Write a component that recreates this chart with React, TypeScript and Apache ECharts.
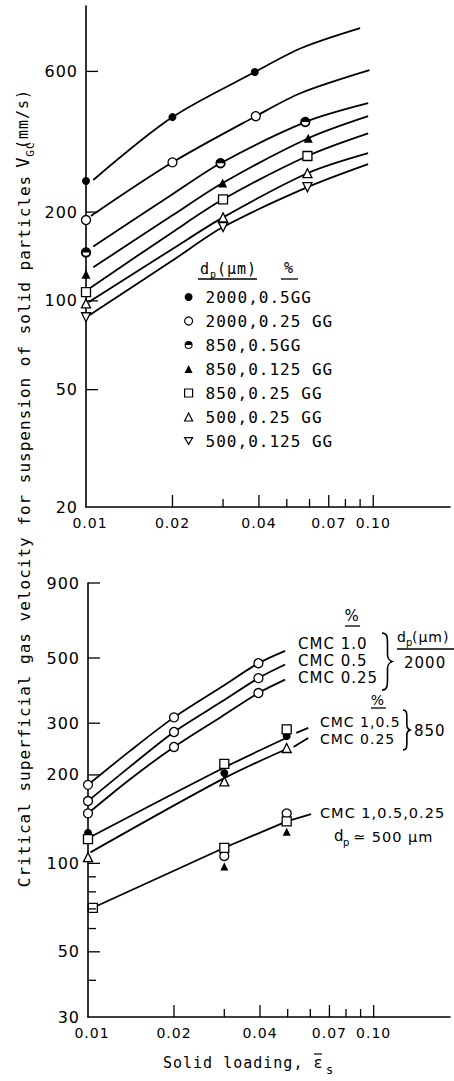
import React, { useEffect, useRef } from 'react';
import * as echarts from 'echarts';

const MONO = '"DejaVu Sans Mono", monospace';
const SANS = '"DejaVu Sans", sans-serif';

// ---------- Top panel (GG solutions) ----------
const topNames = ['2000,0.5GG', '2000,0.25 GG', '850,0.5GG', '850,0.125 GG', '850,0.25 GG', '500,0.25 GG', '500,0.125 GG'];
const top2000_050 = [[0.01, 255], [0.02, 420], [0.0387, 597]];
const top2000_025 = [[0.01, 188], [0.02, 295], [0.039, 423]];
const top850_050 = [[0.01, 146], [0.0294, 293], [0.058, 404]];
const top850_0125 = [[0.01, 123], [0.0299, 251], [0.0594, 356]];
const top850_025 = [[0.01, 107], [0.03, 221], [0.059, 310]];
const top500_025 = [[0.01, 98], [0.03, 192], [0.059, 271]];
const top500_0125 = [[0.01, 88], [0.03, 178], [0.059, 243]];

const topCurve2000_050 = [[0.0106, 257], [0.02, 420], [0.0387, 597], [0.056, 719], [0.09, 841]];
const topCurve2000_025 = [[0.0104, 194], [0.02, 295], [0.039, 423], [0.056, 507], [0.097, 606]];
const topCurve850_050 = [[0.0106, 153], [0.02, 230], [0.0294, 293], [0.058, 404], [0.096, 468]];
const topCurve850_0125 = [[0.0106, 130], [0.02, 195], [0.0299, 251], [0.0594, 356], [0.096, 423]];
const topCurve850_025 = [[0.0104, 111], [0.02, 171], [0.03, 221], [0.059, 310], [0.096, 370]];
const topCurve500_025 = [[0.0102, 99], [0.02, 150], [0.03, 192], [0.059, 271], [0.096, 317]];
const topCurve500_0125 = [[0.0102, 89], [0.02, 137], [0.03, 178], [0.059, 243], [0.096, 291]];

// ---------- Bottom panel (CMC solutions) ----------
const bot2000_10 = [[0.01, 185], [0.02, 314], [0.0395, 480]];
const bot2000_05 = [[0.01, 163], [0.02, 280], [0.0395, 427]];
const bot2000_025 = [[0.01, 148], [0.02, 249], [0.0395, 380]];
const botCurve2000_10 = [[0.01, 185], [0.014, 241], [0.02, 314], [0.0295, 400], [0.0395, 480], [0.049, 529]];
const botCurve2000_05 = [[0.01, 163], [0.014, 213], [0.02, 280], [0.0295, 356], [0.0395, 427], [0.049, 475]];
const botCurve2000_025 = [[0.01, 148], [0.014, 193], [0.02, 249], [0.0295, 317], [0.0395, 380], [0.049, 422]];

const bot850_sq = [[0.01, 121], [0.03, 218], [0.0496, 286]];
const bot850_dot = [[0.01, 127], [0.03, 203], [0.0496, 271]];
const bot850_tri = [[0.01, 105], [0.03, 190], [0.0496, 247]];
const botCurve850_a = [[0.0102, 123], [0.03, 212], [0.049, 266]];
const botLeader850_a = [[0.0536, 278], [0.059, 289]];
const botCurve850_b = [[0.0102, 109], [0.03, 195], [0.0496, 245]];
const botLeader850_b = [[0.0524, 249], [0.059, 267]];

const bot500_sq = [[0.0104, 70.6], [0.03, 113], [0.0496, 139]];
const bot500_circ = [[0.03, 106], [0.0496, 148]];
const bot500_tri = [[0.03, 97.5], [0.0496, 128]];
const botCurve500 = [[0.0104, 70.6], [0.03, 113], [0.0496, 139], [0.0604, 147]];

// ---------- Axes ----------
const xMin = 0.01;
const xMax = 0.185;
const topYMin = 20;
const topYMax = 1000;
const botYMin = 30;
const botYMax = 900;
const xTickValues = [0.01, 0.02, 0.03, 0.04, 0.05, 0.06, 0.07, 0.08, 0.09, 0.1];
const xTickLabels = ['0.01', '0.02', '', '0.04', '', '', '0.07', '', '', '0.10'];
const topYTickValues = [20, 50, 100, 200, 600];
const topYTickLabels = ['20', '50', '100', '200', '600'];
const botYTickValues = [30, 40, 50, 60, 70, 80, 90, 100, 200, 300, 500, 900];
const botYTickLabels = ['30', '', '50', '', '', '', '', '100', '200', '300', '500', '900'];

const HALF = 'path://M0,10A10,10,0,1,1,20,10A10,10,0,1,1,0,10ZM2.5,10A7.5,7.5,0,1,0,17.5,10A7.5,7.5,0,1,0,2.5,10ZM2.5,10A7.5,7.5,0,0,1,17.5,10Z';
const INV_TRI = 'path://M0,0L20,0L10,17Z';

function braceD(h: number, w: number) {
  const m = w * 0.55;
  return `M0,0 C${m},0 ${m},${h * 0.08} ${m},${h * 0.2} L${m},${h * 0.38} C${m},${h * 0.47} ${w},${h * 0.5} ${w},${h * 0.5} C${w},${h * 0.5} ${m},${h * 0.53} ${m},${h * 0.62} L${m},${h * 0.8} C${m},${h * 0.92} ${m},${h} 0,${h}`;
}
echarts.graphic.registerShape('brace1', echarts.graphic.extendPath(braceD(57, 10), {}));
echarts.graphic.registerShape('brace2', echarts.graphic.extendPath(braceD(40, 7), {}));

function lineS(name: string, data: number[][], gi: number, smooth: boolean | number = 0.3) {
  return {
    name, type: 'line', xAxisIndex: gi, yAxisIndex: gi, data, smooth,
    showSymbol: false, symbol: 'none', lineStyle: { color: '#000', width: 1.8 }, itemStyle: { color: '#000' },
    z: 2, silent: true, clip: false,
  };
}

function dotS(name: string, data: number[][], gi: number, symbol: string, size: number, fill: string, extra: any = {}) {
  return {
    name, type: 'scatter', xAxisIndex: gi, yAxisIndex: gi, data, symbol, symbolSize: size,
    itemStyle: { color: fill, borderColor: '#000', borderWidth: fill === '#000' ? 0 : 1.3, opacity: 1 },
    z: 3, clip: false, silent: true, ...extra,
  };
}

function xTicks(gi: number, yMin: number) {
  return {
    type: 'custom', xAxisIndex: gi, yAxisIndex: gi, silent: true, clip: false, z: 4,
    data: xTickValues.map((v) => [v, yMin]),
    renderItem: (params: any, api: any) => {
      const i = params.dataIndex;
      const p = api.coord([xTickValues[i], yMin]);
      const children: any[] = [];
      if (i > 0) {
        children.push({ type: 'line', shape: { x1: p[0], y1: p[1], x2: p[0], y2: p[1] - (xTickLabels[i] ? 12 : 8) }, style: { stroke: '#000', lineWidth: 1.3 } });
      }
      if (xTickLabels[i]) {
        children.push({
          type: 'text', x: p[0] + (i === 0 ? 4 : 0), y: p[1] + 16,
          style: { text: xTickLabels[i], font: `14px ${SANS}`, fill: '#000', align: 'center', verticalAlign: 'middle', textAlign: 'center', textVerticalAlign: 'middle' },
        });
      }
      return { type: 'group', children };
    },
  };
}

function yTicks(gi: number, values: number[], labels: string[]) {
  return {
    type: 'custom', xAxisIndex: gi, yAxisIndex: gi, silent: true, clip: false, z: 4,
    data: values.map((v) => [xMin, v]),
    renderItem: (params: any, api: any) => {
      const i = params.dataIndex;
      const p = api.coord([xMin, values[i]]);
      const children: any[] = [];
      if (i > 0) {
        children.push({ type: 'line', shape: { x1: p[0], y1: p[1], x2: p[0] + (labels[i] ? 12 : 8), y2: p[1] }, style: { stroke: '#000', lineWidth: 1.3 } });
      }
      if (labels[i]) {
        children.push({
          type: 'text', x: p[0] - 8, y: p[1],
          style: { text: labels[i], font: `16px ${SANS}`, fill: '#000', align: 'right', verticalAlign: 'middle', textAlign: 'right', textVerticalAlign: 'middle' },
        });
      }
      return { type: 'group', children };
    },
  };
}

function T(text: string, x: number, y: number, size: number, family = SANS, align = 'left', extra: any = {}) {
  return {
    type: 'text', x, y, silent: true, ...extra,
    style: { text, font: `${size}px ${family}`, fill: '#000', align, verticalAlign: 'middle', textAlign: align, textVerticalAlign: 'middle' },
  };
}
function L(x1: number, y1: number, x2: number, y2: number, w = 1.3) {
  return { type: 'line', silent: true, shape: { x1, y1, x2, y2 }, style: { stroke: '#000', lineWidth: w } };
}

const axisCommon = {
  axisLine: { show: true, onZero: false, lineStyle: { color: '#000', width: 1.6 } },
  axisTick: { show: false },
  axisLabel: { show: false },
  splitLine: { show: false },
  minorTick: { show: false },
};

const openStyle = { color: '#fff', borderColor: '#000', borderWidth: 1.2 };
const solidStyle = { color: '#000', borderColor: '#000', borderWidth: 0 };

export default function App() {
  const ref = useRef<HTMLDivElement>(null);
  useEffect(() => {
    if (!ref.current) return;
    const chart = echarts.init(ref.current, null, { renderer: 'svg' });
    const R = Math.PI / 2;
    const option: any = {
      animation: false,
      backgroundColor: '#fff',
      grid: [
        { left: 86, top: 6, width: 364, height: 501, outerBoundsMode: 'none' },
        { left: 88, top: 583, width: 362, height: 434, outerBoundsMode: 'none' },
      ],
      xAxis: [
        { type: 'log', gridIndex: 0, min: xMin, max: xMax, ...axisCommon },
        { type: 'log', gridIndex: 1, min: xMin, max: xMax, ...axisCommon },
      ],
      yAxis: [
        { type: 'log', gridIndex: 0, min: topYMin, max: topYMax, ...axisCommon },
        { type: 'log', gridIndex: 1, min: botYMin, max: botYMax, ...axisCommon },
      ],
      legend: {
        orient: 'vertical', left: 184, top: 289, padding: 0, itemWidth: 8, itemHeight: 8, itemGap: 8,
        selectedMode: false,
        textStyle: { fontFamily: MONO, fontSize: 16, color: '#000', lineHeight: 16, padding: [0, 0, 0, 8] },
        data: [
          { name: topNames[0], icon: 'circle', itemStyle: solidStyle },
          { name: topNames[1], icon: 'circle', itemStyle: openStyle },
          { name: topNames[2], icon: HALF, itemStyle: solidStyle },
          { name: topNames[3], icon: 'triangle', itemStyle: solidStyle },
          { name: topNames[4], icon: 'rect', itemStyle: openStyle },
          { name: topNames[5], icon: 'triangle', itemStyle: openStyle },
          { name: topNames[6], icon: INV_TRI, itemStyle: openStyle },
        ],
      },
      series: [
        // top curves
        lineS('tc1', topCurve2000_050, 0),
        lineS('tc2', topCurve2000_025, 0),
        lineS('tc3', topCurve850_050, 0),
        lineS('tc4', topCurve850_0125, 0),
        lineS('tc5', topCurve850_025, 0),
        lineS('tc6', topCurve500_025, 0),
        lineS('tc7', topCurve500_0125, 0),
        // top markers
        dotS(topNames[0], top2000_050, 0, 'circle', 8, '#000'),
        dotS(topNames[1], top2000_025, 0, 'circle', 9, '#fff'),
        dotS('bg850', top850_050, 0, 'circle', 9, '#fff'),
        dotS(topNames[2], top850_050, 0, HALF, 9, '#000', { z: 4 }),
        dotS(topNames[3], top850_0125, 0, 'triangle', 9, '#000'),
        dotS(topNames[4], top850_025, 0, 'rect', 9, '#fff'),
        dotS(topNames[5], top500_025, 0, 'triangle', 9, '#fff'),
        dotS(topNames[6], top500_0125, 0, INV_TRI, 9, '#fff'),
        // bottom curves
        lineS('bc1', botCurve2000_10, 1),
        lineS('bc2', botCurve2000_05, 1),
        lineS('bc3', botCurve2000_025, 1),
        lineS('bc4', botCurve850_a, 1),
        lineS('bc4l', botLeader850_a, 1, false),
        lineS('bc5', botCurve850_b, 1),
        lineS('bc5l', botLeader850_b, 1, false),
        lineS('bc6', botCurve500, 1, false),
        // bottom markers
        dotS('CMC 1.0', bot2000_10, 1, 'circle', 9, '#fff'),
        dotS('CMC 0.5', bot2000_05, 1, 'circle', 9, '#fff'),
        dotS('CMC 0.25', bot2000_025, 1, 'circle', 9, '#fff'),
        dotS('850 CMC 1,0.5 dot', bot850_dot, 1, 'circle', 8, '#000'),
        dotS('850 CMC 1,0.5', bot850_sq, 1, 'rect', 9, '#fff'),
        dotS('850 CMC 0.25', bot850_tri, 1, 'triangle', 9, '#fff'),
        dotS('500 tri', bot500_tri, 1, 'triangle', 8, '#000'),
        dotS('500 circ', bot500_circ, 1, 'circle', 9, '#fff'),
        dotS('500 sq', bot500_sq, 1, 'rect', 9, '#fff'),
        // ticks
        xTicks(0, topYMin),
        xTicks(1, botYMin),
        yTicks(0, topYTickValues, topYTickLabels),
        yTicks(1, botYTickValues, botYTickLabels),
      ],
      graphic: [
        // y axis title
        T('Critical superficial gas velocity for suspension of solid particles', 24, 531, 16, MONO, 'center', { rotation: R }),
        T('V', 23, 162, 17, MONO, 'center', { rotation: R }),
        T('GC', 30, 149, 11, MONO, 'center', { rotation: R }),
        T('(mm/s)', 23, 119, 15, MONO, 'center', { rotation: R }),
        // x axis title
        T('Solid loading, ε', 163, 1063, 15, MONO),
        L(314, 1054, 322, 1054, 1.2),
        T('s', 326, 1070, 12, MONO),
        // top legend header
        T('d', 200, 269, 15, MONO),
        T('p', 210, 274, 10, MONO),
        T('(μm)', 217, 269, 15, MONO),
        T('%', 289, 268, 15, MONO, 'center'),
        L(198, 279, 257, 279),
        L(281, 279, 298, 279),
        // bottom labels 2000
        T('%', 352, 616, 15, SANS, 'center'),
        L(345, 626, 360, 626),
        T('CMC 1.0', 298, 644, 15),
        T('CMC 0.5', 298, 661, 15),
        T('CMC 0.25', 298, 678, 15),
        { type: 'brace1', x: 382, y: 633, silent: true, style: { stroke: '#000', fill: 'none', lineWidth: 1.6 } },
        T('d', 397, 637, 14),
        T('p', 406, 642, 10),
        T('(μm)', 412, 637, 14),
        L(397, 649, 454, 649),
        T('2000', 404, 663, 15),
        // bottom labels 850
        T('%', 378, 700, 14, SANS, 'center'),
        L(371, 708, 386, 708),
        T('CMC 1,0.5', 320, 722, 14),
        T('CMC 0.25', 320, 739, 14),
        { type: 'brace2', x: 403, y: 710, silent: true, style: { stroke: '#000', fill: 'none', lineWidth: 1.6 } },
        T('850', 414, 731, 15),
        // bottom labels 500
        T('CMC 1,0.5,0.25', 320, 813, 14.5),
        T('d', 334, 836, 15),
        T('p', 343, 842, 10),
        T('≃ 500 μm', 353, 837, 14.5),
      ],
    };
    chart.setOption(option);
    return () => chart.dispose();
  }, []);
  return (
    <div
      ref={ref}
      style={{ position: 'absolute', left: 0, top: 0, width: 454, height: 1081, letterSpacing: '1px', background: '#fff' }}
    />
  );
}
